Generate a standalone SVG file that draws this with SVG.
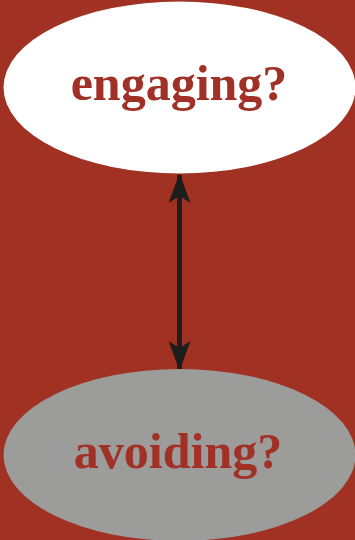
<svg xmlns="http://www.w3.org/2000/svg" width="355" height="540" viewBox="0 0 355 540">
<style>
.lbl{font-family:"Liberation Serif","DejaVu Serif",serif;font-weight:bold;font-size:50px;fill:#A13126;text-anchor:middle}
</style>
<defs>
<marker id="ah" viewBox="0 0 30 22" refX="28" refY="11" markerWidth="30" markerHeight="22" markerUnits="userSpaceOnUse" orient="auto-start-reverse">
<path d="M0,0 L30,11 L0,22 L7,11 Z" fill="#1d1d1b"/>
</marker>
</defs>
<rect width="355" height="540" fill="#A03123"/>
<g id="connectors">
<line x1="179.5" y1="175" x2="179.5" y2="369" stroke="#1d1d1b" stroke-width="5" marker-start="url(#ah)" marker-end="url(#ah)"/>
</g>
<g id="engaging">
<ellipse cx="179.5" cy="87.5" rx="176" ry="86" fill="#ffffff"/>
<text class="lbl" x="179" y="100">engaging?</text>
</g>
<g id="avoiding">
<ellipse cx="179.5" cy="455" rx="176" ry="86" fill="#9C9C9A"/>
<text class="lbl" x="178" y="468">avoiding?</text>
</g>
</svg>
